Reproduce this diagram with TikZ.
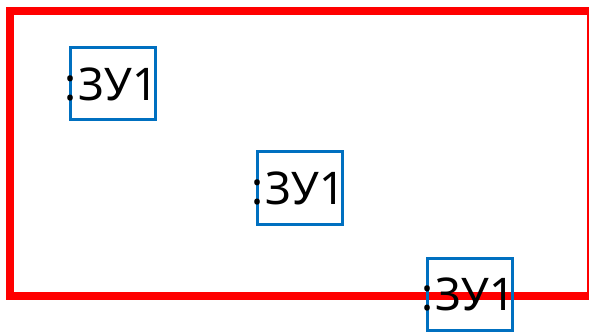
\documentclass[tikz,border=0pt]{standalone}
\usepackage{fontspec}
\setmainfont{Noto Sans}
\definecolor{frame}{RGB}{255,0,0}
\definecolor{boxblue}{RGB}{0,112,192}
\begin{document}
\begin{tikzpicture}[x=1pt,y=-1pt,
  boxst/.style={draw=boxblue,line width=3pt,minimum width=85pt,minimum height=72pt,inner sep=0pt},
  lbl/.style={inner sep=0pt,font=\fontsize{45}{50}\selectfont,anchor=west}]
\useasboundingbox (0,0) rectangle (589,334);
\draw[frame,line width=8pt] (10,11.5) rectangle (591,295.5);
\node[boxst] (b1) at (112.5,84) {};
\node[lbl] (t1) at ([xshift=-4pt]b1.west) {:\kern2ptЗУ1};
\node[boxst] (b2) at (299.5,188) {};
\node[lbl] (t2) at ([xshift=-4pt]b2.west) {:\kern2ptЗУ1};
\node[boxst] (b3) at (469.5,294.5) {};
\node[lbl] (t3) at ([xshift=-4pt]b3.west) {:\kern2ptЗУ1};
\end{tikzpicture}
\end{document}
